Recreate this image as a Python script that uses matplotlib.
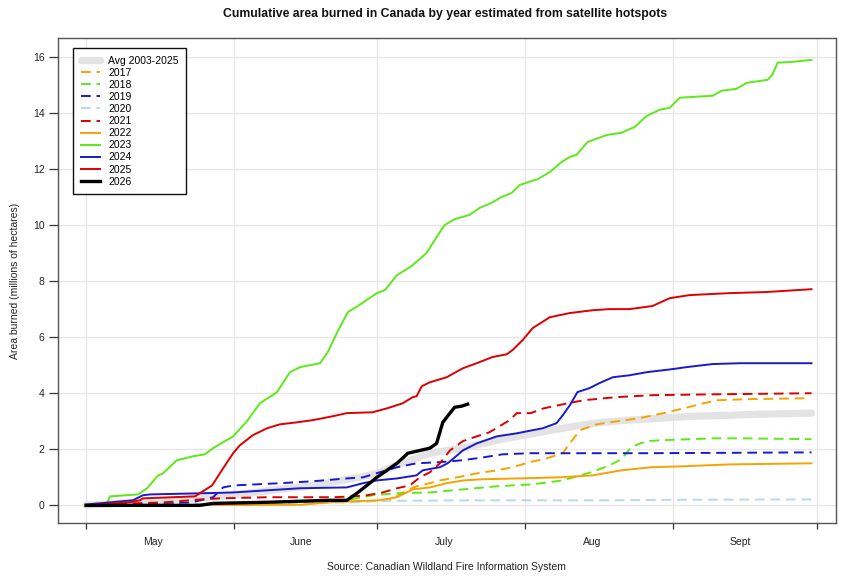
import matplotlib
matplotlib.use("Agg")
import matplotlib.pyplot as plt
from matplotlib.ticker import FixedLocator, NullFormatter, FixedFormatter

plt.rcParams['font.family'] = ['Liberation Sans', 'DejaVu Sans']

# x = days since May 1, y = millions of hectares
month_ticks = [0, 31, 61, 92, 123, 153]
month_label_pos = [14, 45, 75, 106, 137]
month_labels = ["May", "June", "July", "Aug", "Sept"]
y_ticks = [0, 2, 4, 6, 8, 10, 12, 14, 16]

d_avg = [0, 9.2, 23.8, 33.6, 47.5, 57.3, 60.9, 65.1, 72.0, 78.9, 86.0, 92.9, 99.8, 106.5, 113.4, 120.3, 127.2, 134.3, 141.2, 151.9]
v_avg = [0, 0.1, 0.25, 0.43, 0.71, 1.0, 1.14, 1.43, 1.86, 2.04, 2.32, 2.54, 2.75, 2.93, 3.04, 3.11, 3.18, 3.21, 3.25, 3.29]

d2017 = [0, 40, 63.6, 67.2, 69.2, 72, 74.1, 77.7, 81.8, 86, 89.3, 92.9, 96.5, 99.8, 101.3, 103.4, 106.9, 109.6, 115.9, 120.9, 125.1, 129.3, 132.2, 139.1, 151.1]
v2017 = [0, 0.05, 0.18, 0.54, 0.68, 0.79, 0.89, 1.0, 1.14, 1.25, 1.36, 1.54, 1.68, 1.86, 2.21, 2.68, 2.89, 2.96, 3.11, 3.29, 3.46, 3.64, 3.75, 3.79, 3.82]

d2018 = [0, 20, 40, 55, 60, 65, 72, 78.9, 86, 93.5, 99.8, 102.9, 106.3, 109.6, 112.1, 114.2, 117.4, 120.1, 131.2, 138, 151.9]
v2018 = [0, 0.03, 0.08, 0.2, 0.36, 0.43, 0.46, 0.57, 0.68, 0.75, 0.89, 1.04, 1.21, 1.43, 1.64, 2.09, 2.29, 2.32, 2.39, 2.39, 2.36]

d2019 = [0, 10, 17, 22, 26.6, 28.7, 30.8, 40.6, 47.5, 54.6, 58.0, 61.5, 65.1, 69.2, 74.1, 78.9, 83.1, 87.2, 92.9, 109.6, 117.4, 151.9]
v2019 = [0, 0.02, 0.07, 0.1, 0.29, 0.64, 0.71, 0.79, 0.86, 0.96, 1.0, 1.18, 1.36, 1.5, 1.54, 1.61, 1.71, 1.82, 1.86, 1.86, 1.86, 1.89]

d2020 = [0, 40, 55, 63, 80, 110, 125, 151.9]
v2020 = [0, 0.05, 0.1, 0.16, 0.18, 0.18, 0.2, 0.21]

d2021 = [0, 9.8, 16.7, 23.8, 28, 37.9, 51.7, 55.9, 58.8, 62.1, 65.1, 67.8, 69.9, 72, 74.1, 76.2, 78.9, 81.8, 84.5, 88.7, 90.2, 93.1, 95.8, 100, 104.2, 111, 118.6, 131.2, 151.9]
v2021 = [0, 0.07, 0.11, 0.21, 0.25, 0.29, 0.29, 0.32, 0.36, 0.46, 0.61, 0.71, 1.0, 1.18, 1.5, 1.96, 2.29, 2.46, 2.61, 3.04, 3.29, 3.29, 3.46, 3.61, 3.75, 3.86, 3.93, 3.96, 4.0]

d2022 = [0, 45, 51, 61.3, 65.1, 68.4, 72, 75.5, 79.1, 82.9, 90.2, 99.2, 106.1, 112.1, 118.4, 124.3, 134.7, 151.9]
v2022 = [0, 0.02, 0.11, 0.18, 0.29, 0.57, 0.64, 0.79, 0.89, 0.93, 0.96, 1.0, 1.07, 1.25, 1.36, 1.39, 1.46, 1.5]

d2023 = [0, 4.4, 5.0, 10.9, 12.8, 15.1, 16.1, 19.0, 22.4, 24.9, 26.6, 28.7, 30.8, 33.7, 36.4, 40, 42.7, 44.8, 49, 50.6, 52.5, 54.8, 56.9, 60.9, 62.6, 65.1, 68.2, 71.3, 73.4, 75.1, 77.2, 80.3, 82.4, 84.9, 87, 89.1, 90.8, 94.6, 97.1, 99.6, 101.3, 102.7, 105, 109, 112.1, 114.9, 117.4, 120.1, 122.2, 124.3, 127, 131.2, 133.1, 136.2, 138.3, 142.7, 143.7, 144.8, 147.9, 151.9]
v2023 = [0, 0.07, 0.32, 0.39, 0.61, 1.07, 1.14, 1.61, 1.75, 1.82, 2.04, 2.25, 2.46, 3.0, 3.64, 4.04, 4.75, 4.93, 5.07, 5.46, 6.14, 6.89, 7.11, 7.57, 7.68, 8.21, 8.54, 9.0, 9.57, 10.0, 10.21, 10.36, 10.61, 10.79, 11.0, 11.14, 11.43, 11.64, 11.89, 12.25, 12.43, 12.5, 12.96, 13.21, 13.29, 13.5, 13.89, 14.11, 14.18, 14.54, 14.57, 14.61, 14.79, 14.86, 15.07, 15.18, 15.36, 15.79, 15.82, 15.89]

d2024 = [0, 9.8, 11.9, 13.4, 23.8, 30.8, 44.8, 54.6, 58.0, 60.9, 65.1, 69.2, 70.5, 74.1, 75.7, 77.2, 78.9, 81.8, 86.0, 90.2, 95.6, 98.5, 99.8, 101.3, 102.9, 105.4, 107.5, 110.3, 113.8, 117.4, 122.8, 125.7, 131.2, 136.8, 151.9]
v2024 = [0.03, 0.18, 0.36, 0.39, 0.43, 0.46, 0.61, 0.64, 0.79, 0.89, 0.96, 1.07, 1.25, 1.36, 1.5, 1.71, 1.96, 2.21, 2.46, 2.57, 2.75, 2.93, 3.21, 3.57, 4.04, 4.18, 4.36, 4.57, 4.64, 4.75, 4.86, 4.93, 5.04, 5.07, 5.07]

d2025 = [0, 9.2, 11.3, 11.9, 22.8, 23.8, 26.4, 28.7, 30.8, 32.2, 34.9, 37.9, 40.6, 44.1, 47.5, 51.7, 54.6, 60.0, 63.0, 66.3, 68.4, 69.2, 70.3, 72.0, 75.5, 78.9, 81.8, 85.1, 88.1, 89.3, 91.4, 93.5, 97.1, 101.3, 106.1, 109.6, 113.8, 118.6, 122.2, 126.4, 134.7, 142.5, 151.9]
v2025 = [0, 0.11, 0.18, 0.25, 0.32, 0.43, 0.71, 1.32, 1.86, 2.14, 2.5, 2.75, 2.89, 2.96, 3.04, 3.18, 3.29, 3.32, 3.46, 3.64, 3.86, 3.89, 4.25, 4.39, 4.57, 4.89, 5.07, 5.29, 5.39, 5.54, 5.89, 6.32, 6.71, 6.86, 6.96, 7.0, 7.0, 7.11, 7.39, 7.5, 7.57, 7.61, 7.71]

d2026 = [0, 23.8, 26.6, 37.9, 51.0, 54.6, 56.7, 58.8, 60.9, 63.0, 65.1, 67.4, 69.2, 72.0, 73.4, 74.7, 76.2, 77.2, 78.7, 79.9]
v2026 = [0, 0, 0.07, 0.11, 0.18, 0.18, 0.43, 0.71, 1.0, 1.25, 1.5, 1.86, 1.93, 2.04, 2.21, 2.96, 3.29, 3.5, 3.54, 3.61]

fig = plt.figure(figsize=(8.64, 5.85), dpi=100)
ax = fig.add_axes([57.7/864, 1-523.3/585, (835.7-57.7)/864, (523.3-38.3)/585])

dash = (0, (5, 3))
lw = 1.4
ax.plot(d_avg, v_avg, color='#e3e3e3', lw=5.2, solid_capstyle='round', label='Avg 2003-2025', zorder=2)
series = [
    (d2017, v2017, '#f5a300', dash, lw, '2017'),
    (d2018, v2018, '#5ee81a', dash, lw, '2018'),
    (d2019, v2019, '#1a1acc', dash, lw, '2019'),
    (d2020, v2020, '#b9d9ea', dash, lw, '2020'),
    (d2021, v2021, '#dd0000', dash, lw, '2021'),
    (d2022, v2022, '#f5a300', '-', lw, '2022'),
    (d2023, v2023, '#5ee81a', '-', lw, '2023'),
    (d2024, v2024, '#1a1acc', '-', lw, '2024'),
    (d2025, v2025, '#dd0000', '-', lw, '2025'),
    (d2026, v2026, '#000000', '-', 2.4, '2026'),
]
for i, (d, v, c, ls, w, lab) in enumerate(series):
    ax.plot(d, v, color=c, linestyle=ls, lw=w, label=lab, zorder=3 + i)

ax.set_xlim(-5.93, 156.97)
ax.set_ylim(-0.64, 16.66)

ax.xaxis.set_major_locator(FixedLocator(month_ticks))
ax.xaxis.set_major_formatter(NullFormatter())
ax.xaxis.set_minor_locator(FixedLocator(month_label_pos))
ax.xaxis.set_minor_formatter(FixedFormatter(month_labels))
ax.tick_params(axis='x', which='major', length=4.5, width=0.9, color='#333333', direction='out')
ax.tick_params(axis='x', which='minor', length=0, pad=10, labelsize=7.5, labelcolor='#222222')
ax.set_yticks(y_ticks)
ax.set_yticklabels([str(t) for t in y_ticks])
ax.tick_params(axis='y', length=6.5, width=0.9, color='#333333', pad=3, labelsize=7.5, labelcolor='#222222')

ax.grid(True, which='major', color='#e6e6e6', lw=0.9, zorder=0)
ax.set_axisbelow(True)
for s in ax.spines.values():
    s.set_color('#555555')
    s.set_linewidth(1.0)

leg = ax.legend(loc='upper left', bbox_to_anchor=(0.02, 0.979), borderaxespad=0,
                fontsize=7.5, frameon=True, fancybox=False, framealpha=1,
                edgecolor='#111111', handlelength=1.9, handletextpad=0.75,
                labelspacing=0.2, borderpad=0.7)
leg.get_frame().set_linewidth(1.0)

fig.text(445.5/864, 1-14.5/585, 'Cumulative area burned in Canada by year estimated from satellite hotspots',
         ha='center', va='center', fontsize=8.8, fontweight='bold', color='#111111')
fig.text(446.5/864, 1-567/585, 'Source: Canadian Wildland Fire Information System',
         ha='center', va='center', fontsize=7.5, color='#222222')
fig.text(15/864, 1-280.8/585, 'Area burned (millions of hectares)', rotation=90,
         ha='center', va='center', fontsize=7.5, color='#222222')

fig.savefig('out.png', dpi=100)
